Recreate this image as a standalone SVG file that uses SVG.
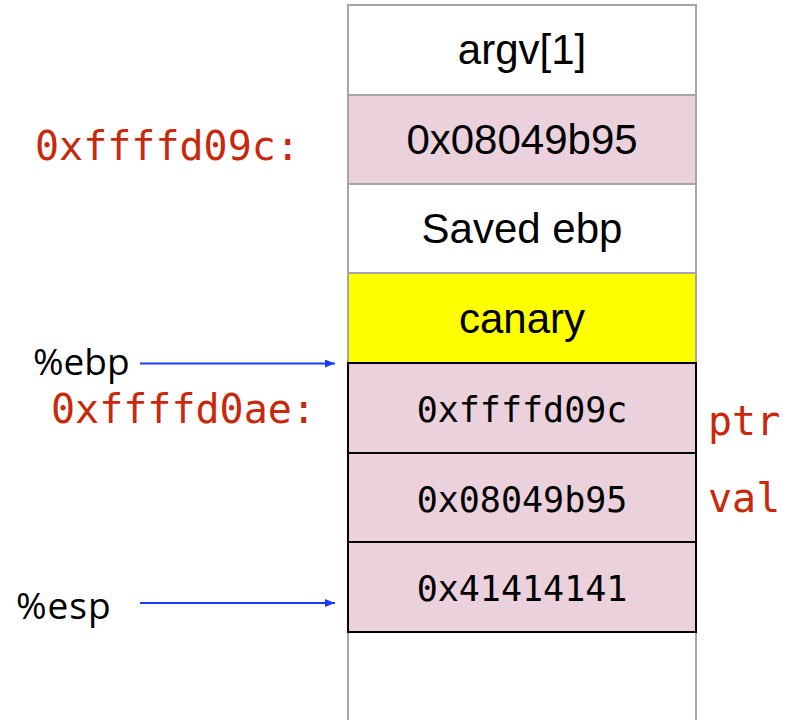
<svg xmlns="http://www.w3.org/2000/svg" width="788" height="720" viewBox="0 0 788 720">
<style>
.g{stroke:#a6a6a6;stroke-width:2}
.k{stroke:#000;stroke-width:2}
.sans{font-family:"Liberation Sans",Arial,sans-serif;font-size:42px;fill:#000;text-anchor:middle}
.mono{font-family:"DejaVu Sans Mono",monospace;font-size:35px;fill:#000;text-anchor:middle}
.red{font-family:"DejaVu Sans Mono",monospace;font-size:40px;fill:#c8290c}
.reg{font-family:"Open Sans","Noto Sans",sans-serif;font-size:37px;fill:#000}
.arr{stroke:#1a3cff;stroke-width:2;fill:none}
</style>
<defs>
<marker id="ah" markerWidth="10" markerHeight="8" refX="10" refY="4" orient="auto" markerUnits="userSpaceOnUse">
<path d="M0,0 L10,4 L0,8 Z" fill="#1a3cff"/>
</marker>
</defs>
<rect width="788" height="720" fill="#fff"/>
<g id="column">
<line class="g" x1="348" y1="632" x2="348" y2="720"/>
<line class="g" x1="696" y1="632" x2="696" y2="720"/>
</g>
<g id="argv1"><rect class="g" x="348" y="5" width="348" height="90" fill="#fff"/><text class="sans" x="522" y="64">argv[1]</text></g>
<g id="ret"><rect class="g" x="348" y="95" width="348" height="89" fill="#ead1dc"/><text class="sans" x="522" y="154">0x08049b95</text></g>
<g id="savedebp"><rect class="g" x="348" y="184" width="348" height="89" fill="#fff"/><text class="sans" x="522" y="243">Saved ebp</text></g>
<g id="canary"><rect class="g" x="348" y="273" width="348" height="90" fill="#ffff00"/><text class="sans" x="522" y="333">canary</text></g>
<g id="ptrbox"><rect class="k" x="348" y="363" width="348" height="90" fill="#ead1dc"/><text class="mono" x="522" y="422">0xffffd09c</text></g>
<g id="valbox"><rect class="k" x="348" y="453" width="348" height="89" fill="#ead1dc"/><text class="mono" x="522" y="512">0x08049b95</text></g>
<g id="bufbox"><rect class="k" x="348" y="542" width="348" height="90" fill="#ead1dc"/><text class="mono" x="522" y="601">0x41414141</text></g>
<g id="labels">
<text class="red" x="35" y="160">0xffffd09c:</text>
<text class="red" x="51" y="423">0xffffd0ae:</text>
<text class="red" x="708" y="435">ptr</text>
<text class="red" x="708" y="512">val</text>
<text class="reg" x="33" y="375">%ebp</text>
<text class="reg" x="16" y="619" letter-spacing="1">%esp</text>
</g>
<g id="connectors">
<line class="arr" x1="140" y1="363.5" x2="335" y2="363.5" marker-end="url(#ah)"/>
<line class="arr" x1="140" y1="603" x2="335" y2="603" marker-end="url(#ah)"/>
</g>
</svg>
